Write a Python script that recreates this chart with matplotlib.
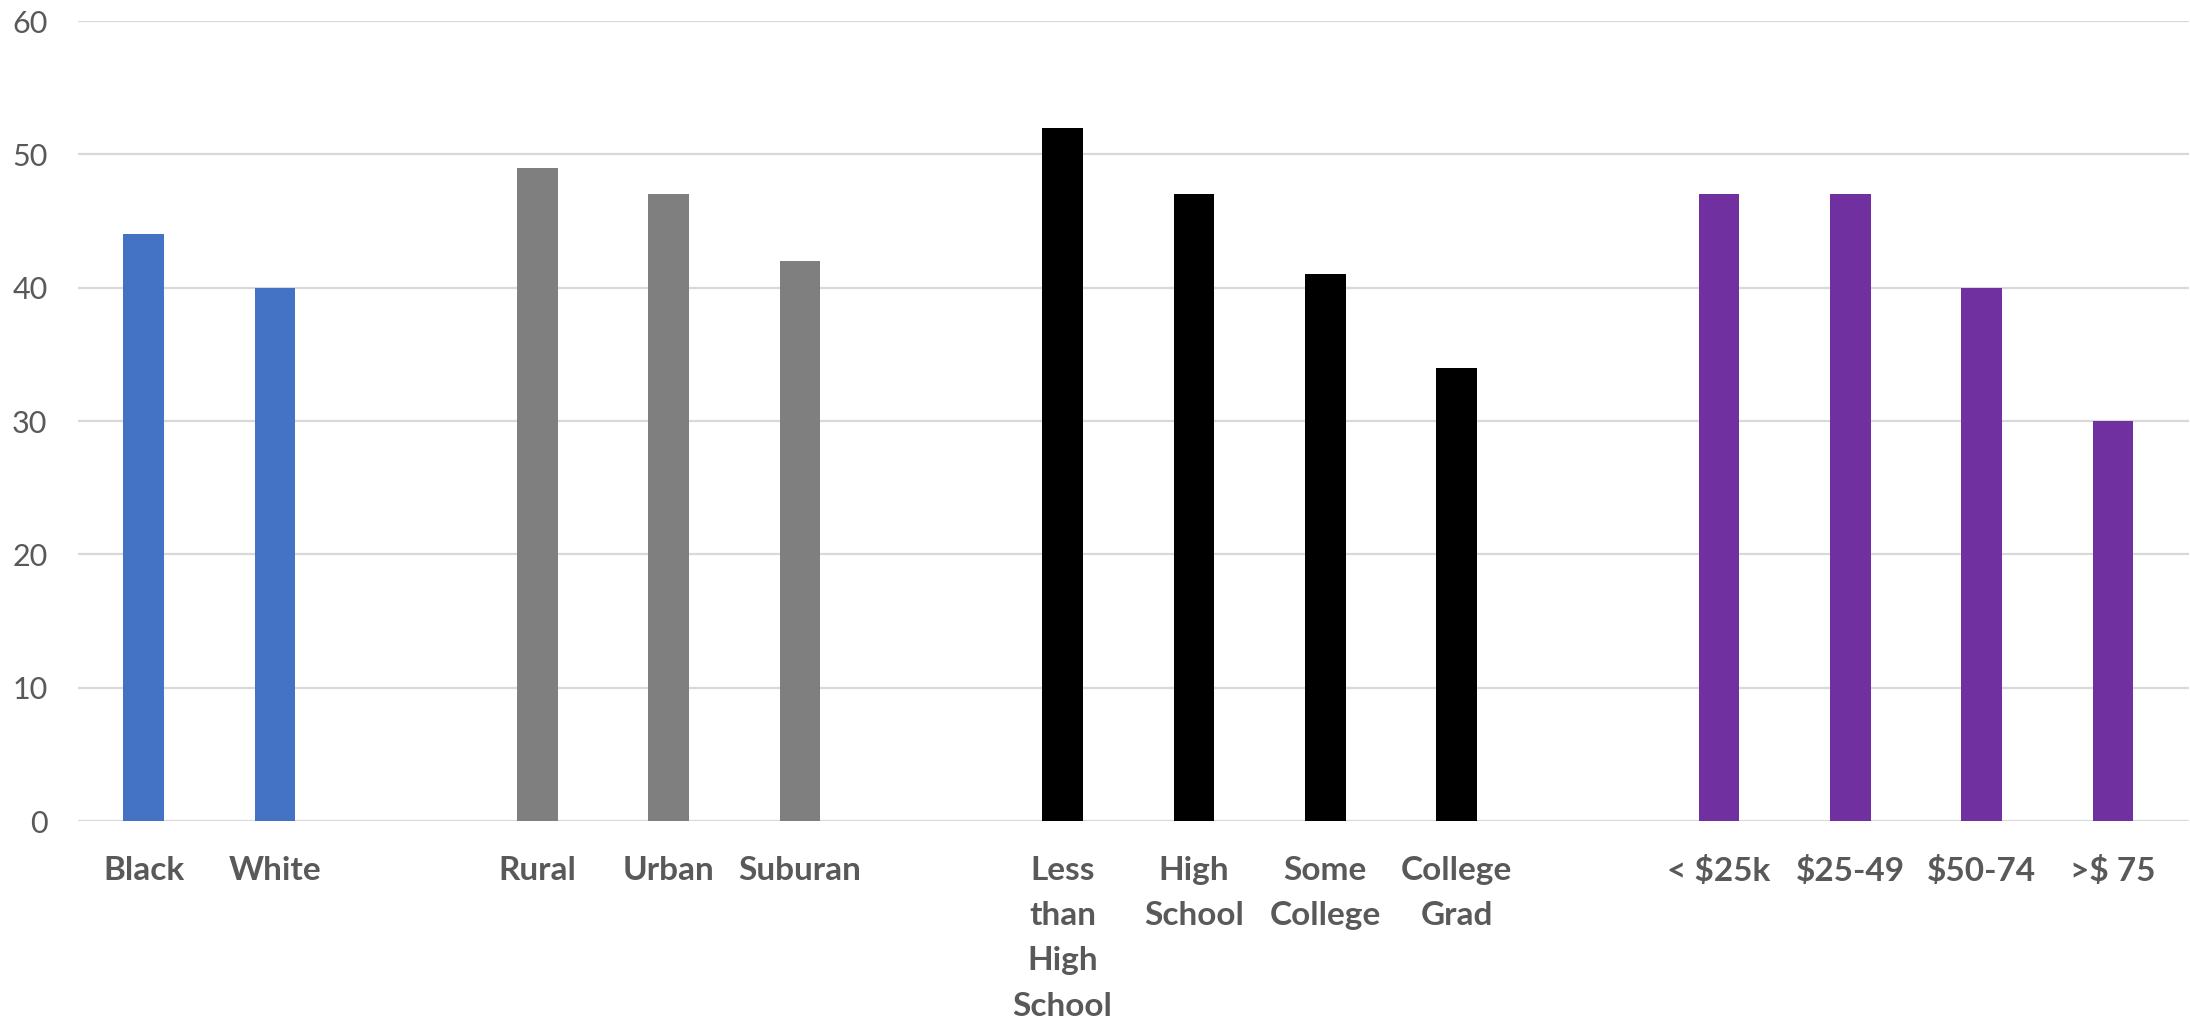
import matplotlib
matplotlib.use("Agg")
import matplotlib.pyplot as plt
import numpy as np

# Survey shares by demographic group (percent)
race_labels = ["Black", "White"]
race_values = [44, 40]
area_labels = ["Rural", "Urban", "Suburan"]
area_values = [49, 47, 42]
edu_labels = ["Less\nthan\nHigh\nSchool", "High\nSchool", "Some\nCollege", "College\nGrad"]
edu_values = [52, 47, 41, 34]
income_labels = ["< $25k", "$25-49", "$50-74", ">$ 75"]
income_values = [47, 47, 40, 30]

groups = [
    (race_labels, race_values, "#4472C4"),
    (area_labels, area_values, "#7F7F7F"),
    (edu_labels, edu_values, "#000000"),
    (income_labels, income_values, "#7030A0"),
]

plt.rcParams["font.family"] = ["Lato", "DejaVu Sans"]

fig = plt.figure(figsize=(21.9, 10.22), dpi=100)
ax = fig.add_axes([78 / 2190, 201 / 1022, 2111 / 2190, 800 / 1022])

# one empty slot between groups
pos = 0
tick_pos, tick_lab = [], []
for labels, values, color in groups:
    xs = np.arange(pos, pos + len(labels))
    ax.bar(xs, values, width=0.31, color=color, zorder=3)
    tick_pos.extend(xs)
    tick_lab.extend(labels)
    pos += len(labels) + 1

ax.set_xlim(-0.5, pos - 1.42)
ax.set_ylim(0, 60)
ax.set_yticks(range(0, 61, 10))
ax.yaxis.grid(True, color="#D9D9D9", linewidth=1.6, zorder=0)
ax.set_axisbelow(True)
for s in ax.spines.values():
    s.set_visible(False)
ax.tick_params(axis="both", length=0)
ax.tick_params(axis="y", labelsize=22, labelcolor="#595959", pad=22)
ax.set_xticks(tick_pos)
ax.set_xticklabels(tick_lab, fontsize=24, fontweight="bold", color="#595959",
                   linespacing=1.68, va="top")
ax.tick_params(axis="x", pad=25)

fig.savefig("out.png", dpi=100, facecolor="white")
